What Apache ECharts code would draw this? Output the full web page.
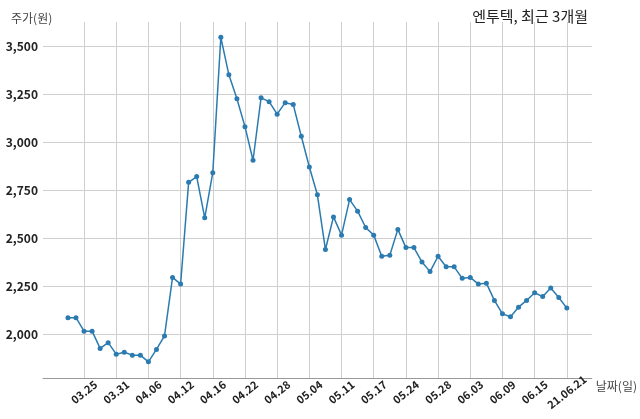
<!DOCTYPE html>
<html>
<head>
<meta charset="utf-8">
<script src="https://cdn.jsdelivr.net/npm/echarts@6/dist/echarts.min.js"></script>
<style>html,body{margin:0;padding:0;background:#fff}#c{width:640px;height:419px}</style>
</head>
<body>
<div id="c"></div>
<script>
const dates = ['03.23','03.24','03.25','03.26','03.29','03.30','03.31','04.01','04.02','04.05',
  '04.06','04.07','04.08','04.09','04.12','04.13','04.14','04.15','04.16','04.19',
  '04.20','04.21','04.22','04.23','04.26','04.27','04.28','04.29','04.30','05.03',
  '05.04','05.06','05.07','05.10','05.11','05.12','05.13','05.14','05.17','05.18',
  '05.20','05.21','05.24','05.25','05.26','05.27','05.28','05.31','06.01','06.02',
  '06.03','06.04','06.07','06.08','06.09','06.10','06.11','06.14','06.15','06.16',
  '06.17','06.18','21.06.21'];
const prices = [2085,2085,2015,2015,1925,1955,1895,1905,1890,1890,
  1855,1920,1990,2295,2260,2790,2820,2605,2840,3545,
  3350,3225,3080,2905,3230,3210,3145,3205,3195,3030,
  2870,2725,2440,2610,2515,2700,2640,2555,2515,2405,
  2410,2545,2450,2450,2375,2325,2405,2350,2350,2290,
  2295,2260,2265,2175,2105,2090,2140,2175,2215,2195,
  2240,2190,2135];
const xTicks = [2,6,10,14,18,22,26,30,34,38,42,46,50,54,58,62];
const yTicks = [2000,2250,2500,2750,3000,3250,3500];
const title = '엔투텍, 최근 3개월';
const yName = '주가(원)';
const xName = '날짜(일)';

const chart = echarts.init(document.getElementById('c'));
const n = prices.length;
const pad = (n - 1) * 0.05;
const font = 'Noto Sans CJK KR';
chart.setOption({
  animation: false,
  title: [{
    text: title, right: 47, top: 4,
    textStyle: {fontFamily: font, fontSize: 15, fontWeight: 'normal', color: '#222'}
  }, {
    text: yName, left: 6, top: 7,
    textStyle: {fontFamily: font, fontSize: 12, fontWeight: 'normal', color: '#444'}
  }],
  grid: {left: 43, right: 48, top: 22, bottom: 41, containLabel: false},
  xAxis: {
    type: 'value', min: -pad, max: n - 1 + pad,
    name: xName, nameLocation: 'end', nameGap: 4,
    nameTextStyle: {fontFamily: font, fontSize: 12, color: '#444', align: 'left', verticalAlign: 'top', padding: [2, 0, 0, 0]},
    axisLine: {show: true, lineStyle: {color: '#999', width: 1}},
    axisTick: {show: false, customValues: xTicks},
    axisLabel: {
      customValues: xTicks, rotate: 38, margin: 14, align: 'center', verticalAlign: 'middle',
      fontFamily: font, fontSize: 11, fontWeight: 'bold', color: '#222',
      formatter: v => dates[Math.round(v)] || ''
    },
    splitLine: {show: true, lineStyle: {color: '#cfcfcf', width: 1}}
  },
  yAxis: {
    type: 'value', min: 1771, max: 3625,
    axisLine: {show: false},
    axisTick: {show: false, customValues: yTicks},
    axisLabel: {
      customValues: yTicks, margin: 5,
      fontFamily: font, fontSize: 12, fontWeight: 'bold', color: '#222',
      formatter: v => v.toLocaleString('en-US')
    },
    splitLine: {show: true, lineStyle: {color: '#cfcfcf', width: 1}}
  },
  series: [{
    type: 'line',
    data: prices.map((p, i) => [i, p]),
    symbol: 'circle', symbolSize: 5,
    itemStyle: {color: '#2b7bb0'},
    lineStyle: {color: '#2b7bb0', width: 1.5}
  }]
});
</script>
</body>
</html>
